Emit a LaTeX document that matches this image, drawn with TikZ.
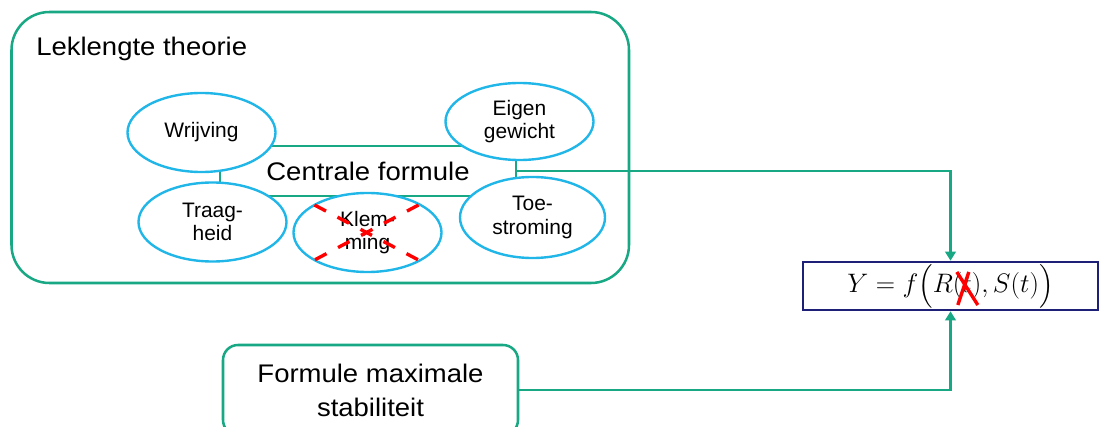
\RequirePackage{fix-cm}
\documentclass[tikz,border=0pt]{standalone}
\usepackage{amsmath}
\usepackage{fontspec}
\setmainfont{Liberation Sans}
\newfontfamily\widefont[FakeStretch=1.08]{Liberation Sans}
\usetikzlibrary{arrows.meta,calc,shapes.geometric}

\definecolor{frame}{RGB}{24,168,132}
\definecolor{bubble}{RGB}{32,182,232}
\definecolor{navy}{RGB}{30,32,120}
\definecolor{cross}{RGB}{255,0,0}

\newcommand\labelfont{\fontsize{14.9pt}{16.6pt}\selectfont}
\newcommand\headfont{\widefont\fontsize{18.1pt}{24.2pt}\selectfont}
\newcommand\eqfont{\fontsize{19pt}{22pt}\selectfont}
\newlength\eqpre
\newlength\eqt

\tikzset{
  bubble/.style={ellipse, draw=bubble, line width=1.7pt, fill=white,
    inner sep=0pt, minimum width=148*0.025cm, minimum height=79*0.025cm,
    align=center, font=\labelfont},
  hub/.style={draw=frame, line width=1.8pt, inner sep=0pt,
    minimum width=296*0.025cm, minimum height=50*0.025cm, font=\headfont},
  panel/.style={draw=frame, line width=1.8pt, inner sep=0pt, align=center,
    font=\headfont},
  eqbox/.style={draw=navy, line width=1.8pt, fill=white, inner sep=0pt},
  conn/.style={draw=frame, line width=1.8pt,
    -{Triangle[width=7.5pt,length=6.5pt]}},
  xmark/.style={draw=cross, line width=2.4pt,
    dash pattern=on 0.325cm off 0.325cm},
  eqx/.style={draw=cross, line width=2.4pt}
}

\begin{document}
\begin{tikzpicture}[x=0.025cm, y=-0.025cm]
  \useasboundingbox (0,0) rectangle (1101,427);
  \clip (0,0) rectangle (1101,427);

  % theory panel with its title
  \node[panel, rounded corners=0.95cm, minimum width=617.5*0.025cm,
        minimum height=271*0.025cm] (theory) at (320.25,147.5) {};
  \node[anchor=base west, inner sep=0pt, font=\headfont] (title)
        at (36,56) {Leklengte theorie};

  % central formula with the effects around it
  \node[hub] (hub) at (368,171) {Centrale formule};
  \node[bubble] (wrij) at (201.5,132.5) {Wrijving};
  \node[bubble] (traag) at (212.5,222) {Traag-\\heid};
  \node[bubble] (klem) at (367.5,232.5) {Klem-\\ming};
  \node[bubble, minimum height=77*0.025cm] (eigen) at (519.5,121.5) {Eigen\\gewicht};
  \node[bubble, minimum width=145*0.025cm, minimum height=81*0.025cm]
        (toe) at (532.5,217.5) {Toe-\\stroming};

  % clamping is left out
  \draw[xmark] ($(klem)+(-53,-27.5)$) -- ($(klem)+(51,27.5)$);
  \draw[xmark] ($(klem)+(51,-27.5)$) -- ($(klem)+(-53,27.5)$);

  % maximum stability panel
  \node[panel, rounded corners=15*0.025cm, minimum width=295*0.025cm,
        minimum height=90*0.025cm] (stab) at (370.5,390)
        {Formule maximale\\stabiliteit};

  % resulting relation
  \node[eqbox, minimum width=295*0.025cm, minimum height=48*0.025cm]
        (eq) at (950.5,286) {};
  \node[inner sep=0pt, font=\eqfont] (eqtext) at (eq.center)
        {$Y = f\Bigl(R(t),S(t)\Bigr)$};
  \settowidth\eqpre{\eqfont$Y = f\Bigl(R($}
  \settowidth\eqt{\eqfont$t$}
  \coordinate (tmid) at ($(eqtext.west)+(\eqpre+0.5\eqt,0pt)$);
  \draw[eqx] ($(tmid)+(-10,-14)$) -- ($(tmid)+(11,19)$);
  \draw[eqx] ($(tmid)+(2,-14)$) -- ($(tmid)+(-9,19)$);

  % connectors
  \draw[conn] (hub.east) -| (eq.north);
  \draw[conn] (stab.east) -| (eq.south);
\end{tikzpicture}
\end{document}
